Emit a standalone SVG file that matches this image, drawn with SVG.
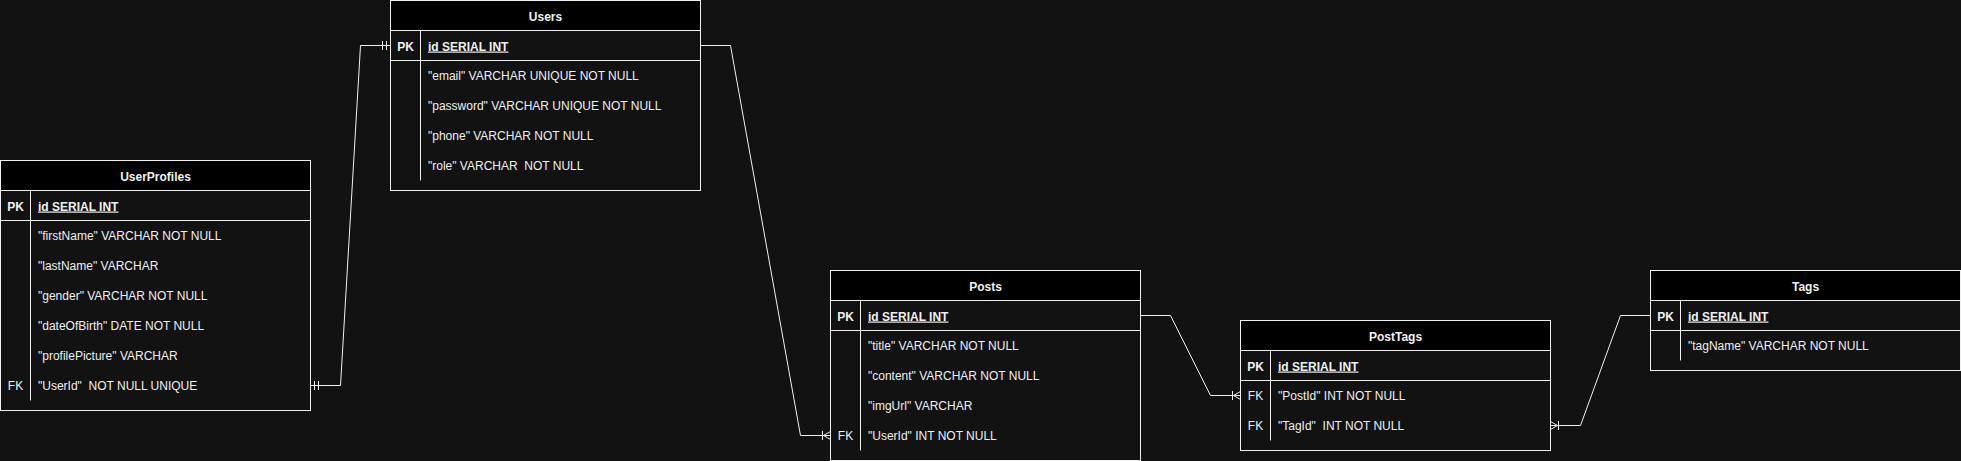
<svg xmlns="http://www.w3.org/2000/svg" width="1961" height="461" viewBox="0 0 1961 461">
<defs>
<style>
.bg{fill:#121212}
.box{fill:#121212;stroke:#f0f0f0;stroke-width:1}
.hdr{fill:#000000;stroke:#f0f0f0;stroke-width:1}
.ln{stroke:#f0f0f0;stroke-width:1;fill:none}
text{font-family:"Liberation Sans",Arial,sans-serif;font-size:12px;fill:#f0f0f0;white-space:pre}
.title{font-weight:bold;text-anchor:middle}
.key{text-anchor:middle}
.pk{font-weight:bold}
.pkf{font-weight:bold;text-decoration:underline}
.edge{stroke:#f0f0f0;stroke-width:1;fill:none}
</style>
<marker id="mandOne" viewBox="-12 -6 14 12" refX="0" refY="0" markerWidth="14" markerHeight="12" markerUnits="userSpaceOnUse" orient="auto-start-reverse" overflow="visible">
<path d="M-4,-4.5 V4.5 M-8,-4.5 V4.5" stroke="#f0f0f0" stroke-width="1" fill="none"/>
</marker>
<marker id="oneToMany" viewBox="-12 -6 14 12" refX="0" refY="0" markerWidth="14" markerHeight="12" markerUnits="userSpaceOnUse" orient="auto-start-reverse" overflow="visible">
<path d="M-8,-4.5 V4.5 M-7,0 L0,-4 M-7,0 L0,4" stroke="#f0f0f0" stroke-width="1" fill="none"/>
</marker>
</defs>
<rect class="bg" x="0" y="0" width="1961" height="461"/>

<g id="connectors">
<path class="edge" d="M310.5,385.5 H340.5 L360.5,45.5 H390.5" marker-start="url(#mandOne)" marker-end="url(#mandOne)"/>
<path class="edge" d="M700.5,45.5 H730.5 L800.5,435.5 H830.5" marker-end="url(#oneToMany)"/>
<path class="edge" d="M1140.5,315.5 H1170.5 L1210.5,395.5 H1240.5" marker-end="url(#oneToMany)"/>
<path class="edge" d="M1550.5,425.5 H1580.5 L1620.5,315.5 H1650.5" marker-start="url(#oneToMany)"/>
</g>

<g id="UserProfiles">
<rect class="box" x="0.5" y="160.5" width="310" height="250"/>
<rect class="hdr" x="0.5" y="160.5" width="310" height="30"/>
<line class="ln" x1="0.5" y1="220.5" x2="310.5" y2="220.5"/>
<line class="ln" x1="30.5" y1="190.5" x2="30.5" y2="400.5"/>
<text class="title" x="155.5" y="180.5">UserProfiles</text>
<text class="key pk" x="15.5" y="210.5">PK</text>
<text class="pkf" x="38" y="210.5">id SERIAL INT</text>
<text x="38" y="240">"firstName" VARCHAR NOT NULL</text>
<text x="38" y="270">"lastName" VARCHAR</text>
<text x="38" y="300">"gender" VARCHAR NOT NULL</text>
<text x="38" y="330">"dateOfBirth" DATE NOT NULL</text>
<text x="38" y="360">"profilePicture" VARCHAR</text>
<text class="key" x="15.5" y="390">FK</text>
<text x="38" y="390">"UserId"  NOT NULL UNIQUE</text>
</g>

<g id="Users">
<rect class="box" x="390.5" y="0.5" width="310" height="190"/>
<rect class="hdr" x="390.5" y="0.5" width="310" height="30"/>
<line class="ln" x1="390.5" y1="60.5" x2="700.5" y2="60.5"/>
<line class="ln" x1="420.5" y1="30.5" x2="420.5" y2="180.5"/>
<text class="title" x="545.5" y="20.5">Users</text>
<text class="key pk" x="405.5" y="50.5">PK</text>
<text class="pkf" x="428" y="50.5">id SERIAL INT</text>
<text x="428" y="80">"email" VARCHAR UNIQUE NOT NULL</text>
<text x="428" y="110">"password" VARCHAR UNIQUE NOT NULL</text>
<text x="428" y="140">"phone" VARCHAR NOT NULL</text>
<text x="428" y="170">"role" VARCHAR  NOT NULL</text>
</g>

<g id="Posts">
<rect class="box" x="830.5" y="270.5" width="310" height="190"/>
<rect class="hdr" x="830.5" y="270.5" width="310" height="30"/>
<line class="ln" x1="830.5" y1="330.5" x2="1140.5" y2="330.5"/>
<line class="ln" x1="860.5" y1="300.5" x2="860.5" y2="450.5"/>
<text class="title" x="985.5" y="290.5">Posts</text>
<text class="key pk" x="845.5" y="320.5">PK</text>
<text class="pkf" x="868" y="320.5">id SERIAL INT</text>
<text x="868" y="350">"title" VARCHAR NOT NULL</text>
<text x="868" y="380">"content" VARCHAR NOT NULL</text>
<text x="868" y="410">"imgUrl" VARCHAR</text>
<text class="key" x="845.5" y="440">FK</text>
<text x="868" y="440">"UserId" INT NOT NULL</text>
</g>

<g id="PostTags">
<rect class="box" x="1240.5" y="320.5" width="310" height="130"/>
<rect class="hdr" x="1240.5" y="320.5" width="310" height="30"/>
<line class="ln" x1="1240.5" y1="380.5" x2="1550.5" y2="380.5"/>
<line class="ln" x1="1270.5" y1="350.5" x2="1270.5" y2="440.5"/>
<text class="title" x="1395.5" y="340.5">PostTags</text>
<text class="key pk" x="1255.5" y="370.5">PK</text>
<text class="pkf" x="1278" y="370.5">id SERIAL INT</text>
<text class="key" x="1255.5" y="400">FK</text>
<text x="1278" y="400">"PostId" INT NOT NULL</text>
<text class="key" x="1255.5" y="430">FK</text>
<text x="1278" y="430">"TagId"  INT NOT NULL</text>
</g>

<g id="Tags">
<rect class="box" x="1650.5" y="270.5" width="310" height="100"/>
<rect class="hdr" x="1650.5" y="270.5" width="310" height="30"/>
<line class="ln" x1="1650.5" y1="330.5" x2="1960.5" y2="330.5"/>
<line class="ln" x1="1680.5" y1="300.5" x2="1680.5" y2="360.5"/>
<text class="title" x="1805.5" y="290.5">Tags</text>
<text class="key pk" x="1665.5" y="320.5">PK</text>
<text class="pkf" x="1688" y="320.5">id SERIAL INT</text>
<text x="1688" y="350">"tagName" VARCHAR NOT NULL</text>
</g>
</svg>
